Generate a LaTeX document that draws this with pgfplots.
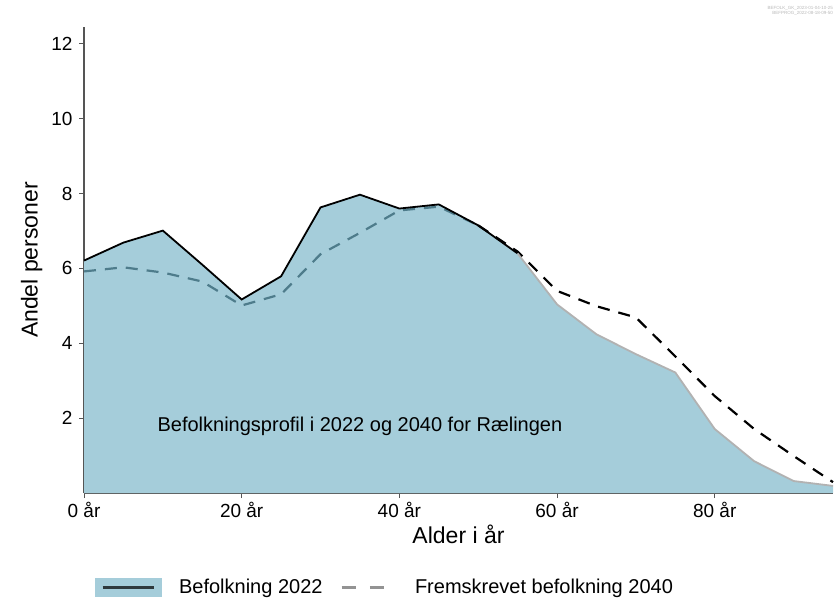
\documentclass[border=0pt]{standalone}
\usepackage{fontspec}
\setmainfont{Liberation Sans}
\usepackage{pgfplots}
\pgfplotsset{compat=1.18}
\definecolor{areablue}{HTML}{A5CDDA}
\definecolor{dashteal}{HTML}{4E7C8B}
\definecolor{axgray}{HTML}{555555}
\begin{document}
\fontsize{19}{22}\selectfont
\begin{tikzpicture}
\begin{axis}[
  scale only axis, width=749pt, height=466pt,
  xmin=0, xmax=95, ymin=0, ymax=12.45,
  axis lines=left, axis line style={axgray, line width=1.2pt, -},
  xtick={0,20,40,60,80}, xticklabels={0 år,20 år,40 år,60 år,80 år},
  ytick={2,4,6,8,10,12},
  tick align=outside, tick style={axgray, line width=0.9pt},
  major tick length=5pt,
  /pgf/number format/assume math mode=true,
  ticklabel style={font=\fontsize{19}{22}\selectfont},
  xticklabel style={yshift=2pt},
  xlabel={Alder i år}, ylabel={Andel personer},
  label style={font=\fontsize{23}{26}\selectfont},
  xlabel style={yshift=6pt}, ylabel style={yshift=-4pt},
  clip=false,
  legend columns=2,
  legend style={at={(0.402,-0.203)}, anchor=center, draw=none, fill=none,
    font=\fontsize{20}{22}\selectfont, column sep=16pt},
  legend cell align=left,
]
% 2022 fill
\addplot[fill=areablue, draw=none, forget plot] coordinates {
(0,6.21) (5,6.69) (10,7.01) (15,6.1) (20,5.17) (25,5.79) (30,7.63) (35,7.97)
(40,7.6) (45,7.71) (50,7.15) (55,6.4) (60,5.04) (65,4.24) (70,3.71) (75,3.22)
(80,1.71) (85,0.85) (90,0.32) (95,0.19)} \closedcycle;
% 2040 dashed: under the area it shows teal, outside it is black
\addplot[dashteal, line width=2.2pt, dash pattern=on 12pt off 9pt, forget plot] coordinates {
(0,5.92) (5,6.03) (10,5.89) (15,5.65) (20,5.01) (25,5.31) (30,6.38) (35,6.95)
(40,7.55) (45,7.65) (50,7.15)};
\addplot[black, line width=2.2pt, dash pattern=on 12pt off 9pt, forget plot] coordinates {
(50,7.15) (55,6.45) (60,5.4) (65,4.99) (70,4.69) (75,3.65)
(80,2.59) (85,1.71) (90,0.99) (95,0.29)};
% 2022 line
\addplot[black, line width=1.8pt, forget plot] coordinates {
(0,6.21) (5,6.69) (10,7.01) (15,6.1) (20,5.17) (25,5.79) (30,7.63) (35,7.97)
(40,7.6) (45,7.71) (50,7.15) (55,6.4)};
\addplot[gray!60, line width=1.8pt, forget plot] coordinates {
(55,6.4) (60,5.04) (65,4.24) (70,3.71) (75,3.22)
(80,1.71) (85,0.85) (90,0.32) (95,0.19)};
% legend entries
\addlegendimage{legend image code/.code={
  \fill[areablue] (0cm,-9pt) rectangle (2.3cm,9pt);
  \draw[black!72!areablue, line width=2.4pt] (0.25cm,0pt) -- (2.05cm,0pt);}}
\addlegendentry{Befolkning 2022}
\addlegendimage{legend image code/.code={
  \draw[gray!85, line width=2.4pt, dash pattern=on 14pt off 14pt] (0cm,0pt) -- (1.9cm,0pt);}}
\addlegendentry{Fremskrevet befolkning 2040}
\node[font=\fontsize{20}{22}\selectfont] at (axis cs:35,1.79) {Befolkningsprofil i 2022 og 2040 for Rælingen};
\node[anchor=north east, align=right, font=\fontsize{4.5}{5.5}\selectfont, text=gray!55, inner sep=0pt]
  at ([shift={(0pt,21pt)}]current axis.north east) {BEFOLK\_GK\_2023-01-04-10-25\\BEFPROG\_2022-08-18-09-50};
\end{axis}
\pgfresetboundingbox
\path ([shift={(-84pt,-104pt)}]current axis.south west) rectangle ([shift={(5pt,27pt)}]current axis.north east);
\end{tikzpicture}
\end{document}
